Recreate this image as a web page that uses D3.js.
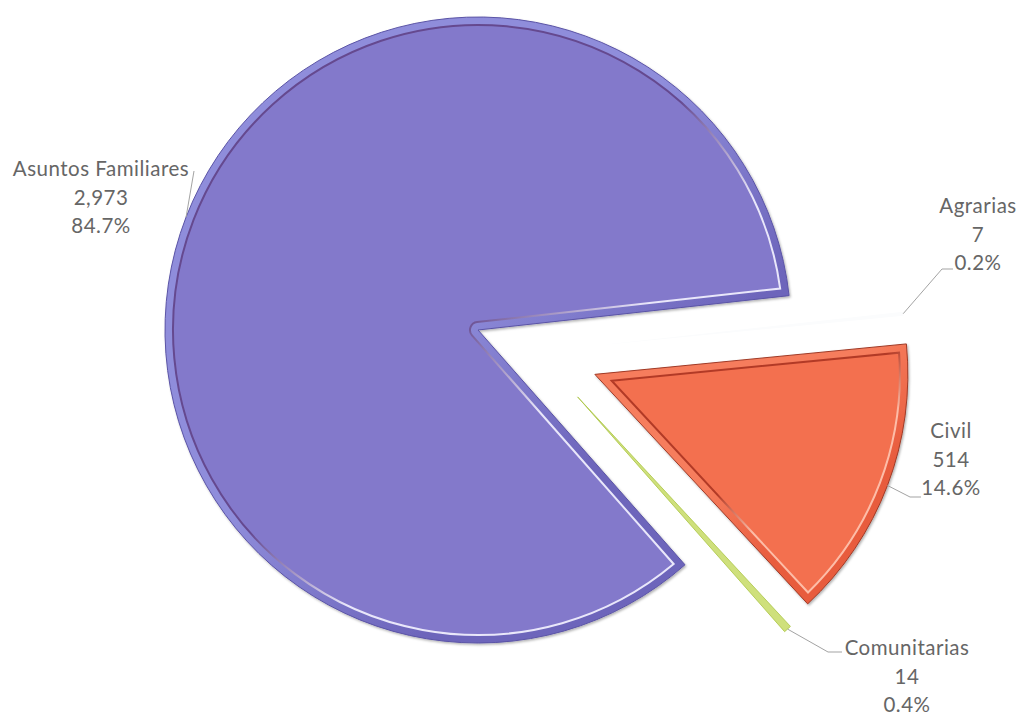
<!DOCTYPE html>
<html lang="es">
<head>
<meta charset="utf-8">
<script src="https://cdn.jsdelivr.net/npm/d3@7"></script>
<style>
  body { margin: 0; background: #fff; }
  .lbl { font-family: Lato, "Open Sans", sans-serif; font-size: 20.5px; letter-spacing: 0.5px; fill: #666; }
</style>
</head>
<body>
<div id="chart"></div>
<script>
// values
var categories = ["Asuntos Familiares", "Agrarias", "Civil", "Comunitarias"];
var counts = [2973, 7, 514, 14];
var countLabels = ["2,973", "7", "514", "14"];
var percentLabels = ["84.7%", "0.2%", "14.6%", "0.4%"];

var width = 1021, height = 715;
var cx = 478, cy = 330, radius = 313;
var bevel = 8;
var deg = Math.PI / 180;
var startAngle = 138.6 * deg;

// fill, bevel band (top / bottom), outline, inner line (dark / light)
var palette = {
  "Asuntos Familiares": {fill: "#8379cb", bandTop: "#8f8ddb", bandBot: "#6d65bb", edge: "#5b54a6",
                         dark: "#65498f", light: "#e9e7fa"},
  "Agrarias":           {fill: "#fbfcfd", edge: "none"},
  "Civil":              {fill: "#f3704f", bandTop: "#f67d5d", bandBot: "#e85c3e", edge: "#a03a26",
                         dark: "#b23a26", light: "#fdbda8"},
  "Comunitarias":       {fill: "#cfe07c", edge: "#a9c443"}
};

// explode distance and turn of the explode direction (degrees)
var explode = {
  "Agrarias":     {dist: 115, turn: 14},
  "Civil":        {dist: 125, turn: 0},
  "Comunitarias": {dist: 120, turn: -14}
};

// label anchor (centre x, first baseline) and leader elbow points
var labelPos = {
  "Asuntos Familiares": {x: 101, y: 176, elbow: [[194, 171]]},
  "Agrarias":           {x: 978, y: 213, elbow: [[942, 269], [953, 269]]},
  "Civil":              {x: 951, y: 438, elbow: [[910, 497], [921, 497]]},
  "Comunitarias":       {x: 907, y: 655, elbow: [[828, 652], [842, 652]]}
};
var lineGap = 28.5;

var data = categories.map(function(c, i) {
  return {name: c, count: counts[i], countLabel: countLabels[i], pct: percentLabels[i]};
});

var svg = d3.select("#chart").append("svg")
    .attr("width", width)
    .attr("height", height);

var defs = svg.append("defs");
var shadow = defs.append("filter").attr("id", "shadow")
    .attr("x", "-10%").attr("y", "-10%").attr("width", "120%").attr("height", "120%");
shadow.append("feDropShadow")
    .attr("dx", 1.2).attr("dy", 1.5).attr("stdDeviation", 1.3)
    .attr("flood-color", "#000").attr("flood-opacity", 0.3);

var pie = d3.pie()
    .sort(null)
    .value(function(d) { return d.count; })
    .startAngle(startAngle)
    .endAngle(startAngle + 2 * Math.PI);

var arc = d3.arc().innerRadius(0).outerRadius(radius);

var arcs = pie(data);

function offsetOf(d) {
  var e = explode[d.data.name];
  if (!e) return [0, 0];
  var a = (d.startAngle + d.endAngle) / 2 + e.turn * deg;
  return [e.dist * Math.sin(a), -e.dist * Math.cos(a)];
}

// inner bevel line, inset by d from the slice edges
function insetPath(a0, a1, r, d) {
  var p = d3.path();
  var R = r - d, da = Math.asin(d / R), span = a1 - a0;
  var c = function(a) { return a - Math.PI / 2; };
  if (span < Math.PI) {
    var m = (a0 + a1) / 2, k = d / Math.sin(span / 2);
    p.moveTo(k * Math.sin(m), -k * Math.cos(m));
    p.arc(0, 0, R, c(a0 + da), c(a1 - da));
  } else {
    var s = a0 + Math.PI / 2;
    p.moveTo(d * Math.sin(s), -d * Math.cos(s));
    p.arc(0, 0, R, c(a0 + da), c(a1 - da));
    p.arc(0, 0, d, c(a1 - Math.PI / 2), c(a0 + Math.PI / 2), true);
  }
  p.closePath();
  return p.toString();
}

function gradient(id, stops) {
  var g = defs.append("linearGradient").attr("id", id)
      .attr("x1", 0).attr("y1", 0).attr("x2", 1).attr("y2", 1);
  stops.forEach(function(s) {
    g.append("stop").attr("offset", s[0]).attr("stop-color", s[1]);
  });
  return "url(#" + id + ")";
}

var slices = svg.append("g").selectAll("g")
    .data(arcs)
    .enter().append("g")
    .attr("transform", function(d) {
      var o = offsetOf(d);
      return "translate(" + (cx + o[0]) + "," + (cy + o[1]) + ")";
    });

slices.each(function(d, i) {
  var p = palette[d.data.name];
  var g = d3.select(this);
  if (!p.dark) {
    g.append("path")
        .attr("d", arc(d))
        .attr("fill", p.fill)
        .attr("stroke", p.edge)
        .attr("stroke-width", 0.8);
    return;
  }
  g.append("path")
      .attr("d", arc(d))
      .attr("fill", gradient("band" + i, [["0%", p.bandTop], ["45%", p.bandTop], ["70%", p.bandBot], ["100%", p.bandBot]]))
      .attr("stroke", p.edge)
      .attr("stroke-width", 1)
      .attr("filter", "url(#shadow)");
  g.append("path")
      .attr("d", insetPath(d.startAngle, d.endAngle, radius, bevel))
      .attr("fill", p.fill)
      .attr("stroke", gradient("bev" + i, [["0%", p.dark], ["48%", p.dark], ["62%", p.light], ["100%", p.light]]))
      .attr("stroke-width", 2);
});

// leader lines
svg.append("g").selectAll("polyline")
    .data(arcs)
    .enter().append("polyline")
    .attr("fill", "none")
    .attr("stroke", "#a3a3a3")
    .attr("stroke-width", 1)
    .attr("points", function(d) {
      var o = offsetOf(d);
      var m = (d.startAngle + d.endAngle) / 2;
      var start = [cx + o[0] + radius * Math.sin(m), cy + o[1] - radius * Math.cos(m)];
      return [start].concat(labelPos[d.data.name].elbow).join(" ");
    });

// labels
var labels = svg.append("g").selectAll("text")
    .data(arcs)
    .enter().append("text")
    .attr("class", "lbl")
    .attr("text-anchor", "middle")
    .attr("transform", function(d) {
      var l = labelPos[d.data.name];
      return "translate(" + l.x + "," + l.y + ")";
    });

labels.each(function(d) {
  var t = d3.select(this);
  [d.data.name, d.data.countLabel, d.data.pct].forEach(function(s, i) {
    t.append("tspan").attr("x", 0).attr("y", i * lineGap).text(s);
  });
});
</script>
</body>
</html>
